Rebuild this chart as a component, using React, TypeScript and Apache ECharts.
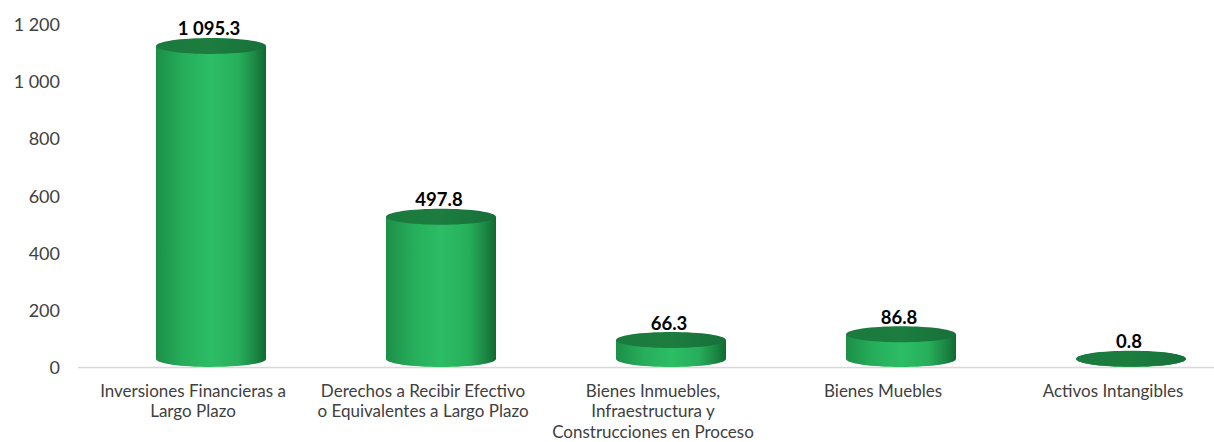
import React, { useEffect, useRef } from "react";
import * as echarts from "echarts";

const categories: string[] = [
  "Inversiones Financieras a\nLargo Plazo",
  "Derechos a Recibir Efectivo\no Equivalentes a Largo Plazo",
  "Bienes Inmuebles,\nInfraestructura y\nConstrucciones en Proceso",
  "Bienes Muebles",
  "Activos Intangibles",
];
const values: number[] = [1095.3, 497.8, 66.3, 86.8, 0.8];
const yTicks = { min: 0, max: 1200, interval: 200 };

const fmt = (v: number, dec: number) => {
  const s = v.toFixed(dec);
  const [i, d] = s.split(".");
  const ii = i.replace(/\B(?=(\d{3})+(?!\d))/g, " ");
  return d !== undefined ? ii + "." + d : ii;
};

const FONT = "Lato, 'Open Sans', sans-serif";

export default function App() {
  const ref = useRef<HTMLDivElement>(null);
  useEffect(() => {
    if (!ref.current) return;
    const chart = echarts.init(ref.current, null, { renderer: "svg" });
    const RX = 55;
    const RY = 8;
    const DY = -8;
    const DX = 18; // 3D depth shift of the cylinders relative to the category label
    const bodyGrad = () =>
      new echarts.graphic.LinearGradient(0, 0, 1, 0, [
        { offset: 0, color: "#1c8f47" },
        { offset: 0.25, color: "#26ae5b" },
        { offset: 0.5, color: "#2cbd65" },
        { offset: 0.75, color: "#27af5b" },
        { offset: 0.92, color: "#1a8241" },
        { offset: 1, color: "#0f6a31" },
      ]);
    chart.setOption({
      animation: false,
      backgroundColor: "#ffffff",
      grid: { left: 193, right: 101, top: 24, bottom: 75, containLabel: false },
      xAxis: {
        type: "category",
        data: categories,
        boundaryGap: false,
        axisLine: { show: false },
        axisTick: { show: false },
        axisLabel: {
          interval: 0,
          margin: 13,
          color: "#404040",
          fontSize: 17,
          lineHeight: 20.5,
          fontFamily: FONT,
        },
      },
      yAxis: {
        type: "value",
        min: yTicks.min,
        max: yTicks.max,
        interval: yTicks.interval,
        splitLine: { show: false },
        axisLine: { show: false },
        axisTick: { show: false },
        axisLabel: {
          margin: 133,
          color: "#404040",
          fontSize: 18,
          fontFamily: FONT,
          formatter: (v: number) => fmt(v, 0),
        },
      },
      graphic: [
        {
          type: "line",
          shape: { x1: 78, y1: 367.5, x2: 1214, y2: 367.5 },
          style: { stroke: "#d9d9d9", lineWidth: 1.5 },
          z: 0,
        },
      ],
      series: [
        {
          type: "custom",
          clip: false,
          data: values.map((v, i) => [i, v]),
          renderItem: (params: any, api: any) => {
            const idx = api.value(0);
            const val = api.value(1);
            const top = api.coord([idx, val]);
            const base = api.coord([idx, 0]);
            const cx = top[0] + DX;
            const ty = top[1] + DY;
            const by = base[1] + DY;
            return {
              type: "group",
              children: [
                {
                  type: "ellipse",
                  shape: { cx, cy: by, rx: RX, ry: RY },
                  style: { fill: bodyGrad() },
                },
                {
                  type: "rect",
                  shape: { x: cx - RX, y: ty, width: RX * 2, height: Math.max(0, by - ty) },
                  style: { fill: bodyGrad() },
                },
                {
                  type: "ellipse",
                  shape: { cx, cy: ty, rx: RX, ry: RY },
                  style: {
                    fill: new echarts.graphic.LinearGradient(0, 0, 1, 0, [
                      { offset: 0, color: "#1b7a3d" },
                      { offset: 0.5, color: "#1c7d3f" },
                      { offset: 1, color: "#17703a" },
                    ]),
                  },
                },
                {
                  type: "text",
                  style: {
                    x: cx - 2,
                    y: ty - RY,
                    text: fmt(val, 1),
                    align: "center",
                    verticalAlign: "bottom",
                    fill: "#000000",
                    font: `bold 18.5px ${FONT}`,
                  },
                },
              ],
            };
          },
        },
      ],
    });
    return () => chart.dispose();
  }, []);
  return (
    <div
      ref={ref}
      style={{
        position: "fixed",
        left: 0,
        top: 0,
        width: 1214,
        height: 442,
        overflow: "hidden",
        background: "#fff",
      }}
    />
  );
}
